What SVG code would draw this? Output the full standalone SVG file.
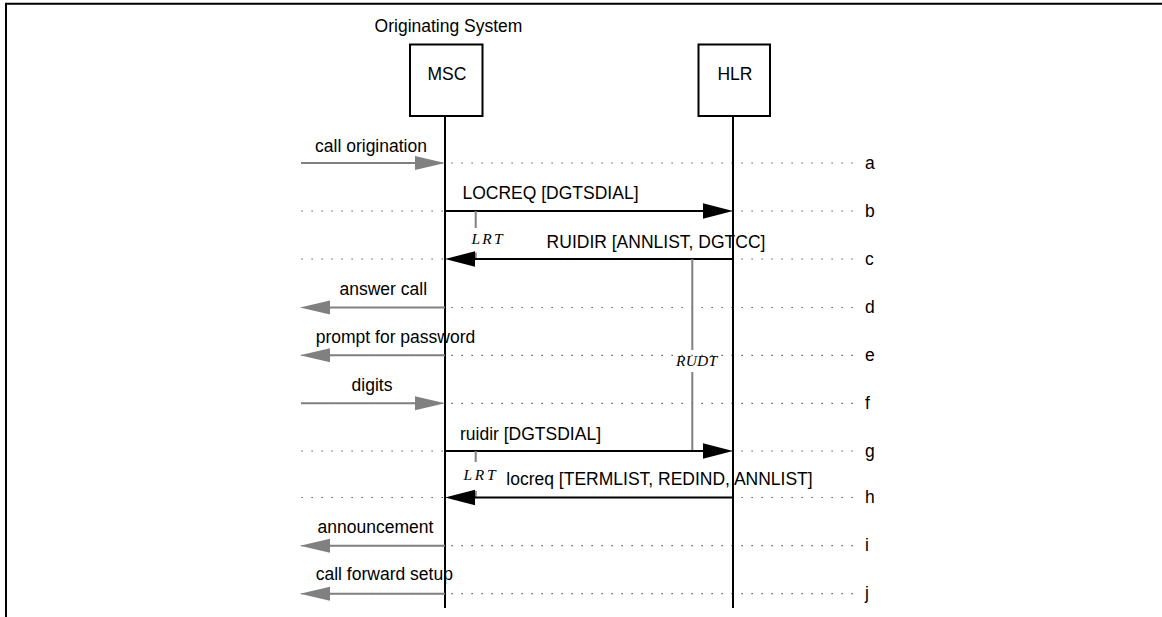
<svg xmlns="http://www.w3.org/2000/svg" width="1162" height="617" viewBox="0 0 1162 617">
<style>
text{font-family:"Liberation Sans",Arial,sans-serif;font-size:17.5px;fill:#000}
.mid{text-anchor:middle}
.tm{font-family:"Liberation Serif","Times New Roman",serif;font-style:italic;font-size:15.5px;text-anchor:middle}
.dot{stroke:#333;stroke-width:1.2;stroke-dasharray:1.2 8.8;fill:none}
.life{stroke:#000;stroke-width:2;fill:none}
.box{stroke:#000;stroke-width:2;fill:#fff}
.ga{stroke:#808080;stroke-width:2;fill:none;marker-end:url(#gh)}
.ba{stroke:#000;stroke-width:2;fill:none;marker-end:url(#bh)}
.tick{stroke:#808080;stroke-width:2;fill:none}
</style>
<defs>
<marker id="gh" markerUnits="userSpaceOnUse" viewBox="0 -8 30 16" markerWidth="30" markerHeight="16" refX="0" refY="0" orient="auto" overflow="visible"><path d="M0,-7 L30,0 L0,7 z" fill="#808080"/></marker>
<marker id="bh" markerUnits="userSpaceOnUse" viewBox="0 -8 30 16" markerWidth="30" markerHeight="16" refX="0" refY="0" orient="auto" overflow="visible"><path d="M0,-7.7 L30,0 L0,7.7 z" fill="#000"/></marker>
</defs>
<rect width="1162" height="617" fill="#fff"/>
<path d="M6,617 V3.7 H1162" stroke="#000" stroke-width="2" fill="none"/>
<g id="rows">
<line class="dot" x1="301.5" y1="163" x2="856" y2="163"/>
<line class="dot" x1="301.5" y1="211" x2="856" y2="211"/>
<line class="dot" x1="301.5" y1="259" x2="856" y2="259"/>
<line class="dot" x1="301.5" y1="307.5" x2="856" y2="307.5"/>
<line class="dot" x1="301.5" y1="355.3" x2="856" y2="355.3"/>
<line class="dot" x1="301.5" y1="403.3" x2="856" y2="403.3"/>
<line class="dot" x1="301.5" y1="451" x2="856" y2="451"/>
<line class="dot" x1="301.5" y1="497.5" x2="856" y2="497.5"/>
<line class="dot" x1="301.5" y1="545.7" x2="856" y2="545.7"/>
<line class="dot" x1="301.5" y1="593.7" x2="856" y2="593.7"/>
<text x="865" y="168.5">a</text>
<text x="865" y="216.5">b</text>
<text x="865" y="264.5">c</text>
<text x="865" y="313">d</text>
<text x="865" y="361">e</text>
<text x="865" y="409">f</text>
<text x="865" y="456.5">g</text>
<text x="865" y="503">h</text>
<text x="865" y="551">i</text>
<text x="865" y="599">j</text>
</g>
<g id="msc">
<text class="mid" x="448.5" y="32">Originating System</text>
<line class="life" x1="445" y1="116" x2="445" y2="608"/>
<rect class="box" x="410" y="44.5" width="72.5" height="71.5"/>
<text class="mid" x="447" y="80">MSC</text>
</g>
<g id="hlr">
<line class="life" x1="733" y1="116" x2="733" y2="608"/>
<rect class="box" x="698.5" y="44.5" width="71.5" height="71.5"/>
<text class="mid" x="735" y="80">HLR</text>
</g>
<g id="connectors">
<line class="ga" x1="301" y1="163" x2="415" y2="163"/>
<text class="mid" x="371" y="152">call origination</text>
<line class="ba" x1="445" y1="211" x2="703" y2="211"/>
<text class="mid" x="550.5" y="199">LOCREQ [DGTSDIAL]</text>
<line class="tick" x1="475.7" y1="211" x2="475.7" y2="228"/>
<line class="tick" x1="475.7" y1="252.5" x2="475.7" y2="259"/>
<text class="tm" x="487" y="244" textLength="31">LRT</text>
<line class="ba" x1="733" y1="259" x2="475" y2="259"/>
<text class="mid" x="656" y="248">RUIDIR [ANNLIST, DGTCC]</text>
<line class="tick" x1="692.3" y1="259" x2="692.3" y2="350" stroke-width="2.5"/>
<line class="tick" x1="692.3" y1="372" x2="692.3" y2="451.5" stroke-width="2.5"/>
<text class="tm" x="696.5" y="366" textLength="41">RUDT</text>
<line class="ga" x1="445" y1="307.5" x2="330" y2="307.5"/>
<text class="mid" x="383.3" y="295">answer call</text>
<line class="ga" x1="445" y1="355.3" x2="330" y2="355.3"/>
<text class="mid" x="395.5" y="343">prompt for password</text>
<line class="ga" x1="301" y1="403.3" x2="415" y2="403.3"/>
<text class="mid" x="372" y="391">digits</text>
<line class="ba" x1="445" y1="451" x2="703" y2="451"/>
<text class="mid" x="530.5" y="440">ruidir [DGTSDIAL]</text>
<line class="tick" x1="475.7" y1="451" x2="475.7" y2="462"/>
<line class="tick" x1="475.7" y1="491" x2="475.7" y2="497.5"/>
<text class="tm" x="479.5" y="479.5" textLength="32">LRT</text>
<line class="ba" x1="733" y1="497.5" x2="475" y2="497.5"/>
<text class="mid" x="659.5" y="485">locreq [TERMLIST, REDIND, ANNLIST]</text>
<line class="ga" x1="445" y1="545.7" x2="330" y2="545.7"/>
<text class="mid" x="375.5" y="533">announcement</text>
<line class="ga" x1="445" y1="593.7" x2="330" y2="593.7"/>
<text class="mid" x="384.3" y="580">call forward setup</text>
</g>
</svg>
